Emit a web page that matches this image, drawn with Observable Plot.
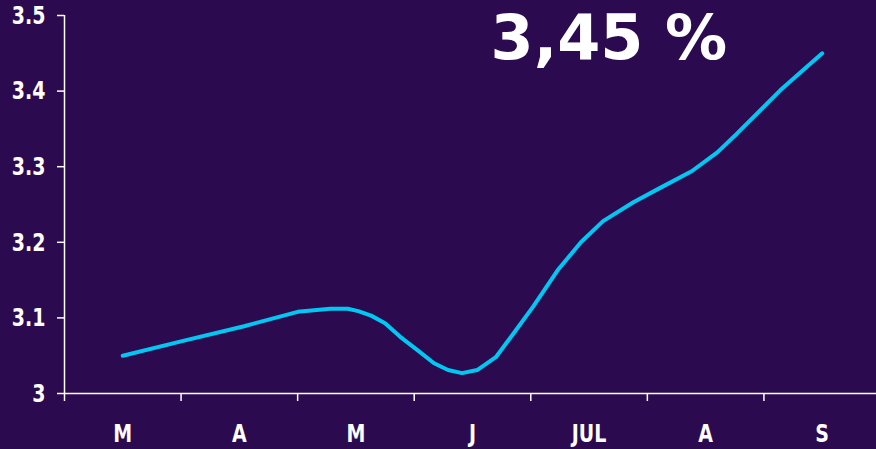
<!DOCTYPE html>
<html><head><meta charset="utf-8">
<script src="https://cdn.jsdelivr.net/npm/d3@7"></script>
<script src="https://cdn.jsdelivr.net/npm/@observablehq/plot@0.6"></script>
<style>
html,body{margin:0;padding:0;background:#2c0a50;overflow:hidden;}
</style></head><body><div id="chart"></div>
<script>
// Month categories (band centres at 0..6)
const months = ["M","A","M","J","JUL","A","S"];
// Position of each observation along the month axis (0 = first month centre)
const obsPos = [0.00,0.50,1.04,1.50,1.78,1.93,2.02,2.13,2.25,2.38,2.53,2.67,2.79,2.91,3.04,3.20,3.35,3.52,3.73,3.93,4.12,4.38,4.61,4.88,5.10,5.27,5.64,6.00];
// Rate values (%)
const rate = [3.050,3.069,3.089,3.108,3.112,3.112,3.109,3.103,3.093,3.075,3.057,3.040,3.031,3.027,3.031,3.048,3.079,3.115,3.163,3.200,3.228,3.253,3.272,3.294,3.319,3.344,3.401,3.450];
const yTicks = [3,3.1,3.2,3.3,3.4,3.5];
const headline = ["3,45 %"];

const data = obsPos.map((x,i)=>({x, y: rate[i]}));
const boundaries = d3.range(-0.5, 7, 1);

const chart = Plot.plot({
  width: 876, height: 449,
  marginLeft: 64, marginRight: 0, marginTop: 15, marginBottom: 56,
  style: {background: "#2c0a50", color: "white", fontFamily: "DejaVu Sans", fontWeight: "bold", fontSize: "19px"},
  x: {domain: [-0.5, 6.5], range: [64, 880], label: null},
  y: {domain: [3, 3.5], label: null},
  marks: [
    Plot.ruleX([-0.5], {stroke: "white", strokeWidth: 1.5}),
    Plot.ruleY([3], {stroke: "white", strokeWidth: 1.5}),
    Plot.axisY({ticks: yTicks, tickSize: 7, tickPadding: 12, strokeWidth: 1.5, stroke: "white", label: null, tickFormat: d => String(+d.toFixed(1))}),
    Plot.axisX({ticks: boundaries, tickSize: 8, strokeWidth: 1.5, stroke: "white", label: null, tickFormat: () => ""}),
    Plot.axisX({ticks: d3.range(0, 7), tickSize: 0, tickPadding: 30, label: null, tickFormat: i => months[i]}),
    Plot.line(data, {x: "x", y: "y", stroke: "#00c8f2", strokeWidth: 4, strokeLinejoin: "round", strokeLinecap: "round"}),
    Plot.text(headline, {frameAnchor: "top-left", dx: 426, dy: 24, fontSize: 62, fontWeight: "bold", fill: "white", textAnchor: "start", lineAnchor: "middle"})
  ]
});
document.getElementById("chart").appendChild(chart);
chart.querySelectorAll('g[aria-label="x-axis tick label"] text, g[aria-label="y-axis tick label"] text').forEach(t => {
  const tr = t.getAttribute("transform");
  if (tr) t.setAttribute("transform", tr + " scale(1,1.35)");
});
</script></body></html>
